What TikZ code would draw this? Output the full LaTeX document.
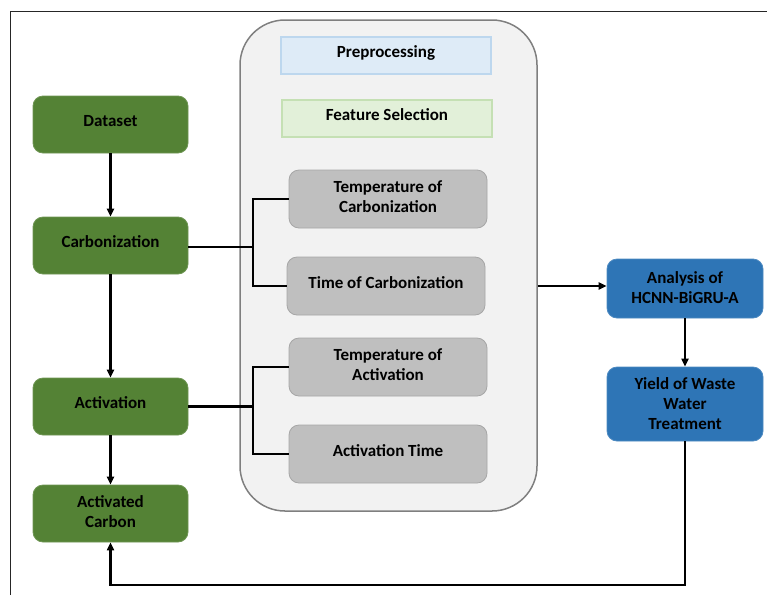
\documentclass[tikz,border=0pt]{standalone}
\usepackage{fontspec}
\setmainfont{Carlito}
\usetikzlibrary{arrows.meta}
\definecolor{grn}{HTML}{548235}
\definecolor{blu}{HTML}{2E75B6}
\definecolor{gfill}{HTML}{BFBFBF}
\definecolor{gline}{HTML}{A6A6A6}
\definecolor{bigfill}{HTML}{F2F2F2}
\definecolor{bigline}{HTML}{7F7F7F}
\definecolor{pfill}{HTML}{DEEBF7}
\definecolor{pline}{HTML}{BDD7EE}
\definecolor{ffill}{HTML}{E2F0D9}
\definecolor{fline}{HTML}{C5E0B4}
\newcommand\lift[2][2pt]{\raisebox{#1}[\height][\depth]{\begin{tabular}{@{}c@{}}#2\end{tabular}}}
\tikzset{
  lbl/.style={font=\fontsize{17}{20}\selectfont\bfseries, align=center, inner sep=0pt},
  greenbox/.style={lbl, fill=grn, draw=grn!85!white, line width=0.8pt, rounded corners=10pt, minimum width=155pt, minimum height=57pt},
  bluebox/.style={lbl, fill=blu, draw=blu!85!white, line width=0.8pt, rounded corners=10pt, minimum width=156pt},
  graybox/.style={lbl, fill=gfill, draw=gline, line width=0.8pt, rounded corners=10pt, minimum width=198pt, minimum height=58pt},
  conn/.style={line width=2.3pt, black},
  arr/.style={conn, -{Triangle[length=8pt,width=7pt]}},
}
\begin{document}
\begin{tikzpicture}[x=1pt,y=-1pt]
\useasboundingbox (0,0) rectangle (767,595);
% frame
\draw[line width=1.5pt, black!85] (10.5,595) -- (10.5,11.5) -- (767,11.5);
% big container
\node[draw=bigline, fill=bigfill, line width=1.5pt, rounded corners=45pt, minimum width=297pt, minimum height=491pt] (big) at (388.5,265.5) {};
\node[lbl, fill=pfill, draw=pline, line width=1.3pt, minimum width=210pt, minimum height=37pt] (pre) at (386,55.5) {\lift{Preprocessing}};
\node[lbl, fill=ffill, draw=fline, line width=1.3pt, minimum width=210pt, minimum height=37pt] (fs) at (387,118.5) {\lift{Feature Selection}};
\node[graybox] (tc) at (388,199) {\lift[0.5pt]{Temperature of\\Carbonization}};
\node[graybox] (tmc) at (386,286) {\lift{Time of Carbonization}};
\node[graybox] (ta) at (388,367) {\lift[0.5pt]{Temperature of\\Activation}};
\node[graybox] (at) at (388,454) {\lift{Activation Time}};
% green
\node[greenbox] (ds) at (110.5,124.5) {\lift{Dataset}};
\node[greenbox] (carb) at (110.5,245.5) {\lift{Carbonization}};
\node[greenbox] (act) at (110.5,406.5) {\lift{Activation}};
\node[greenbox] (ac) at (110.5,513.5) {\lift[0.5pt]{Activated\\Carbon}};
% blue
\node[bluebox, minimum height=59pt] (an) at (685,288.5) {\lift[-1pt]{Analysis of\\HCNN-BiGRU-A}};
\node[bluebox, minimum height=74pt] (yl) at (685,404) {\lift[-1.5pt]{Yield of Waste\\Water\\Treatment}};
% connectors
\draw[arr] (ds) -- (carb);
\draw[arr] (carb) -- (act);
\draw[arr] (act) -- (ac);
\coordinate (j1) at (253,247);
\coordinate (j2) at (253,406.5);
\draw[conn] (carb.east |- j1) -- (j1);
\draw[conn] (tc.west) -| (j1) |- (tmc.west);
\draw[conn] (act.east) -- (j2);
\draw[conn] (ta.west) -| (j2) |- (at.west);
\draw[arr] (big.east |- 0,286) -- (an.west |- 0,286);
\draw[arr] (an) -- (yl);
\coordinate (b1) at (685,585);
\draw[arr] (yl.south) -- (b1) -| (ac.south);
\end{tikzpicture}
\end{document}
